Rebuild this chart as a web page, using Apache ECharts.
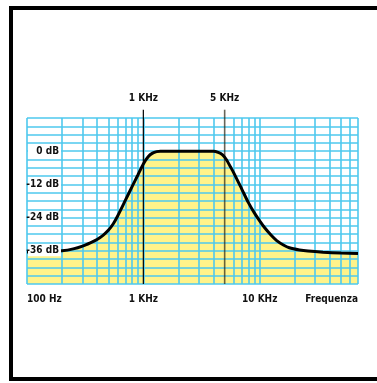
<!DOCTYPE html>
<html>
<head>
<meta charset="utf-8">
<script src="https://cdn.jsdelivr.net/npm/echarts@6/dist/echarts.min.js"></script>
<style>
html,body{margin:0;padding:0;background:#fff;}
#c{width:377px;height:383px;}
</style>
</head>
<body>
<div id="c"></div>
<script>
// Response curve (frequency in Hz, gain in dB)
const freqs = [100, 150, 200, 250, 300, 350, 400, 450, 500, 550, 600, 700, 800, 900, 1000, 1100, 1200, 1300, 1400, 4000, 4400, 4800, 5200, 5600, 6000, 7000, 8000, 9000, 10000, 11000, 12500, 14000, 16000, 18000, 22000, 26000, 35000, 50000, 70000];
const gains = [-36.4, -36.3, -36.0, -35.3, -34.3, -33.1, -31.9, -30.4, -28.6, -26.3, -23.5, -17.8, -12.8, -8.5, -4.6, -2.0, -0.7, -0.15, 0, 0, -0.4, -1.3, -3.2, -5.6, -7.9, -13.6, -18.6, -22.3, -25.2, -27.6, -30.3, -32.3, -33.9, -34.9, -35.7, -36.1, -36.5, -36.8, -37.0];

// Grid lines
const vGrid = [100, 200, 300, 400, 500, 600, 700, 800, 900, 1000, 2000, 3000, 4000, 6000, 7000, 8000, 9000, 10000, 20000, 30000, 40000, 50000, 60000, 70000];
const hGrid = [-48, -45, -42, -39, -36, -33, -30, -27, -24, -21, -18, -15, -12, -9, -6, -3, 0, 3, 6, 9, 12];

// Marker lines
const markerFreqs = [1000, 5000];
const markerLabels = ['1 KHz', '5 KHz'];
const markerRange = [-48, 15];

// Tick labels
const xTickValues = [100, 1000, 10000];
const xTickLabels = ['100 Hz', '1 KHz', '10 KHz'];
const yTickValues = [-36, -24, -12, 0];
const yTickLabels = ['-36 dB', '-24 dB', '-12 dB', '0 dB'];
const xName = 'Frequenza';

const FONT = '"Liberation Sans Narrow", "DejaVu Sans Condensed", "Liberation Sans", sans-serif';
const FS = 10;
const GRID_BLUE = '#4ec8ee';

const chart = echarts.init(document.getElementById('c'), null, {renderer: 'canvas'});
const curve = freqs.map((f, i) => [f, gains[i]]);

const series = [
  {
    type: 'line', name: 'area', data: curve, smooth: 0.25, symbol: 'none',
    lineStyle: {width: 0}, areaStyle: {color: '#fff38a', opacity: 1, origin: 'start'},
    z: 1, silent: true
  },
  {
    type: 'line', name: 'grid', data: [], symbol: 'none', z: 3, silent: true,
    markLine: {
      silent: true, symbol: 'none', animation: false, z: 3,
      label: {show: false},
      lineStyle: {color: GRID_BLUE, width: 1.6, type: 'solid'},
      data: vGrid.map(v => ({xAxis: v})).concat(hGrid.map(v => ({yAxis: v})))
    }
  }
];
markerFreqs.forEach((f, i) => {
  series.push({
    type: 'line', name: 'm' + i, clip: false, symbol: 'circle', symbolSize: 0, showSymbol: true, z: 4, silent: true,
    data: [
      {value: [f, markerRange[0]], label: {show: false}},
      {value: [f, markerRange[1]], label: {show: true, formatter: markerLabels[i], position: 'top', distance: 6, fontFamily: FONT, fontWeight: 'bold', fontSize: FS, color: '#111'}}
    ],
    lineStyle: {color: i === 0 ? '#000' : 'rgba(40,35,20,0.7)', width: i === 0 ? 1.2 : 1.6}
  });
});
series.push({
  type: 'line', name: 'curve', data: curve, smooth: 0.25, symbol: 'none',
  lineStyle: {color: '#000', width: 3}, z: 5, silent: true
});

chart.setOption({
  animation: false,
  backgroundColor: '#fff',
  grid: {left: 27, right: 19, top: 118, bottom: 99},
  xAxis: {
    type: 'log', logBase: 10, min: 100, max: 70000,
    axisLine: {show: false, onZero: false}, axisTick: {show: false}, splitLine: {show: false},
    axisLabel: {
      margin: 10, fontFamily: FONT, fontWeight: 'bold', fontSize: FS, color: '#111',
      alignMinLabel: 'left', showMaxLabel: false,
      formatter: v => { const k = xTickValues.indexOf(Math.round(v)); return k >= 0 ? xTickLabels[k] : ''; }
    },
    name: xName, nameLocation: 'end', nameGap: 0,
    nameTextStyle: {fontFamily: FONT, fontWeight: 'bold', fontSize: FS, color: '#111', align: 'right', verticalAlign: 'top', padding: [10, 0, 0, 0]}
  },
  yAxis: {
    type: 'value', min: -48, max: 12, interval: 12, z: 10,
    axisLine: {show: false}, axisTick: {show: false}, splitLine: {show: false},
    axisLabel: {
      inside: true, align: 'right', margin: 34, showMinLabel: false, showMaxLabel: false,
      fontFamily: FONT, fontWeight: 'bold', fontSize: FS, color: '#111',
      backgroundColor: '#fff', padding: [1, 2, 0, 2], width: 29, overflow: 'none',
      formatter: v => { const k = yTickValues.indexOf(v); return k >= 0 ? yTickLabels[k] : ''; }
    }
  },
  graphic: [{
    type: 'rect', z: 100, silent: true,
    shape: {x: 11, y: 8, width: 380, height: 371},
    style: {fill: 'none', stroke: '#000', lineWidth: 4}
  }],
  series: series
});
</script>
</body>
</html>
